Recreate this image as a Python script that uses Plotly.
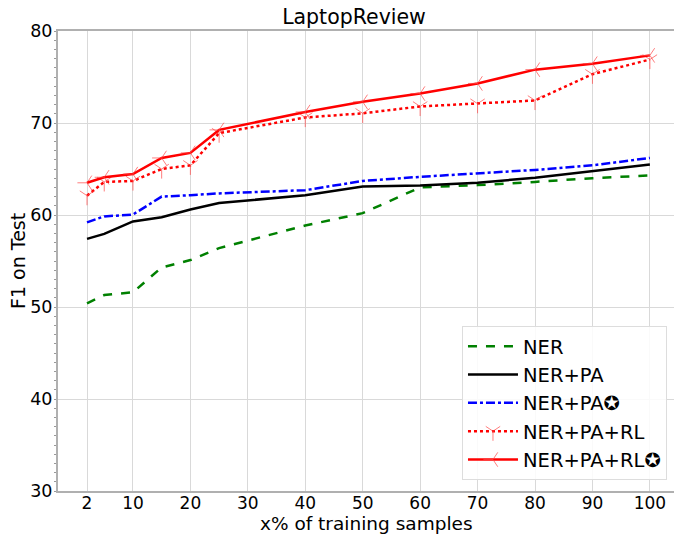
import plotly.graph_objects as go

x_pct = [2, 5, 10, 15, 20, 25, 40, 50, 60, 70, 80, 90, 100]
ner = [50.4, 51.3, 51.6, 54.3, 55.1, 56.4, 58.85, 60.2, 63.0, 63.25, 63.6, 64.0, 64.3]
ner_pa = [57.4, 57.95, 59.3, 59.75, 60.6, 61.3, 62.15, 63.1, 63.2, 63.5, 64.05, 64.8, 65.5]
ner_pa_star = [59.2, 59.85, 60.05, 62.0, 62.15, 62.35, 62.7, 63.7, 64.15, 64.55, 64.9, 65.4, 66.2]
ner_pa_rl = [62.1, 63.6, 63.7, 65.0, 65.4, 68.9, 70.6, 71.05, 71.8, 72.1, 72.45, 75.3, 76.9]
ner_pa_rl_star = [63.5, 64.1, 64.45, 66.2, 66.75, 69.25, 71.2, 72.3, 73.2, 74.3, 75.8, 76.45, 77.35]

x_ticks = [2, 10, 20, 30, 40, 50, 60, 70, 80, 90, 100]
y_ticks = [30, 40, 50, 60, 70, 80]

FONT = "DejaVu Sans"
MK = "rgba(255,70,70,0.7)"
fig = go.Figure()
fig.add_trace(go.Scatter(x=x_pct, y=ner, name="NER", mode="lines", legendgroup="a",
                         line=dict(color="green", width=2.5, dash="dash")))
fig.add_trace(go.Scatter(x=x_pct, y=ner_pa, name="NER+PA", mode="lines", legendgroup="b",
                         line=dict(color="black", width=2.5)))
fig.add_trace(go.Scatter(x=x_pct, y=ner_pa_star, name="NER+PA✪", mode="lines", legendgroup="c",
                         line=dict(color="blue", width=2.5, dash="dashdot")))
fig.add_trace(go.Scatter(x=x_pct, y=ner_pa_rl, name="NER+PA+RL", mode="lines+markers", legendgroup="d",
                         line=dict(color="red", width=2.5, dash="dot"),
                         marker=dict(symbol="y-down", size=12, line=dict(width=1, color=MK))))
fig.add_trace(go.Scatter(x=x_pct, y=ner_pa_rl_star, name="NER+PA+RL✪", mode="lines+markers", legendgroup="e",
                         line=dict(color="red", width=2.5),
                         marker=dict(symbol="y-left", size=12, line=dict(width=1, color=MK))))

fig.update_layout(
    width=674, height=535,
    margin=dict(l=58, r=0, t=31, b=44, autoexpand=False),
    paper_bgcolor="white", plot_bgcolor="white",
    font=dict(family=FONT, size=17.5, color="black"),
    title=dict(text="LaptopReview", x=(58 + 296) / 674, xanchor="center",
               y=1 - 17 / 535, yanchor="middle", font=dict(size=20.5), automargin=False),
    legend=dict(x=0.9886, xanchor="right", y=0.024, yanchor="bottom",
                bgcolor="rgba(255,255,255,0.85)", bordercolor="#dddddd", borderwidth=1,
                font=dict(size=19.5), tracegroupgap=0, itemwidth=50),
    showlegend=True,
    annotations=[
        dict(text="x% of training samples", xref="paper", yref="paper", x=0.5, y=0,
             xanchor="center", yanchor="middle", yshift=-32.5, showarrow=False,
             font=dict(size=18.5)),
        dict(text="F1 on Test", xref="paper", yref="paper", x=0, y=0.5, textangle=-90,
             xanchor="center", yanchor="middle", xshift=-40, showarrow=False,
             font=dict(size=19)),
    ],
)
fig.update_xaxes(range=[-3.05, 104.2], tickvals=x_ticks, ticktext=[str(v) for v in x_ticks],
                 tickfont=dict(size=17),
                 showgrid=True, gridcolor="#d9d9d9", gridwidth=1,
                 showline=True, linecolor="#b0b0b0", linewidth=2, mirror=True,
                 ticks="", zeroline=False, automargin=False, ticklabelstandoff=-4)
fig.update_yaxes(range=[30, 80], tickvals=y_ticks,
                 showgrid=True, gridcolor="#d9d9d9", gridwidth=1,
                 showline=True, linecolor="#b0b0b0", linewidth=2,
                 ticks="", zeroline=False, automargin=False,
                 minor=dict(dtick=1, ticks="outside", ticklen=2, tickcolor="#999999", showgrid=False))

fig.write_html("out.html", config={"displayModeBar": False},
               post_script="document.body.style.margin='0';document.body.style.overflow='hidden';")
